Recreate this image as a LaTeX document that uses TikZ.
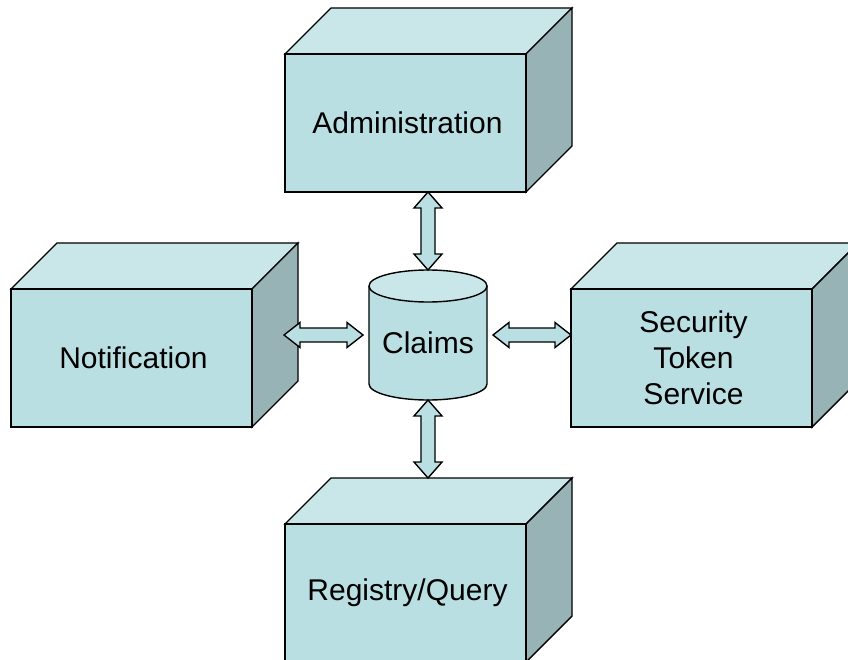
\documentclass[tikz,border=0pt]{standalone}
\usepackage{fontspec}
\setmainfont{Liberation Sans}
\usetikzlibrary{calc}
\definecolor{frontc}{HTML}{B9DFE3}
\definecolor{topc}{HTML}{C9E6E9}
\definecolor{sidec}{HTML}{97B3B6}
\tikzset{
  outline/.style={draw=black,line width=1.4pt,line join=miter},
  frontface/.style={outline,fill=frontc,minimum width=241pt,minimum height=138pt,inner sep=0pt,outer sep=0pt},
  boxtext/.style={align=center,inner sep=0pt,font=\fontsize{30}{36}\selectfont},
  topface/.style={outline,fill=topc},
  sideface/.style={outline,fill=sidec},
  blockarrow/.style={outline,fill=frontc},
}
\newcommand{\cubebox}[4]{%
  \begin{scope}[shift={(#2,#3)}]
    \filldraw[topface] (0,0) -- (46,-46) -- (287,-46) -- (241,0) -- cycle;
    \filldraw[sideface] (241,0) -- (287,-46) -- (287,92) -- (241,138) -- cycle;
  \end{scope}
  \node[frontface] (#1) at ({#2+120.5},{#3+69}) {};
  \node[boxtext] (#1-text) at ($(#1.center)+(2,0)$) {#4};
}
\newcommand{\dblarrowV}[2]{%
  \draw[blockarrow] (#1) -- ++(14,16) -- ++(-7,0) -- ($(#2)+(7,-16)$) -- ++(7,0) -- (#2)
    -- ++(-14,-16) -- ++(7,0) -- ($(#1)+(-7,16)$) -- ++(-7,0) -- cycle;
}
\newcommand{\dblarrowH}[2]{%
  \draw[blockarrow] (#1) -- ++(16,-12.5) -- ++(0,5.5) -- ($(#2)+(-16,-7)$) -- ++(0,-5.5) -- (#2)
    -- ++(-16,12.5) -- ++(0,-5.5) -- ($(#1)+(16,7)$) -- ++(0,5.5) -- cycle;
}
\begin{document}
\begin{tikzpicture}[x=1pt,y=-1pt]
\useasboundingbox (0,0) rectangle (848,660);
\clip (0,0) rectangle (848,660);
\fill[white] (0,0) rectangle (848,660);

% boxes
\cubebox{adm}{285}{54}{Administration}
\cubebox{notif}{11}{289}{Notification}
\cubebox{sts}{571}{289}{Security\\Token\\Service}
\cubebox{reg}{285}{524}{Registry/Query}

% cylinder
\fill[frontc] (369,286) -- (369,384) arc[start angle=180,end angle=360,x radius=59,y radius=-16] -- (487,286) -- cycle;
\draw[outline] (369,286) -- (369,384) arc[start angle=180,end angle=360,x radius=59,y radius=-16] -- (487,286);
\draw[outline,fill=topc] (428,286) ellipse[x radius=59,y radius=16];
\node[minimum width=118pt,minimum height=130pt,inner sep=0pt,outer sep=0pt] (claims) at (428,335) {};
\node[boxtext] (claimstext) at (428,343) {Claims};

% connection points
\coordinate (admP) at (claims.center |- adm.south);
\coordinate (regP) at ($(claims.center |- reg.north)+(0,-46)$);
\coordinate (notP) at ($(notif.east |- claims.center)+(32,0)$);
\coordinate (stsP) at (sts.west |- claims.center);
\coordinate (clW) at ($(claims.west)+(-6,0)$);
\coordinate (clE) at ($(claims.east)+(6,0)$);

% arrows
\dblarrowV{admP}{claims.north}
\dblarrowV{claims.south}{regP}
\dblarrowH{notP}{clW}
\dblarrowH{clE}{stsP}
\end{tikzpicture}
\end{document}
